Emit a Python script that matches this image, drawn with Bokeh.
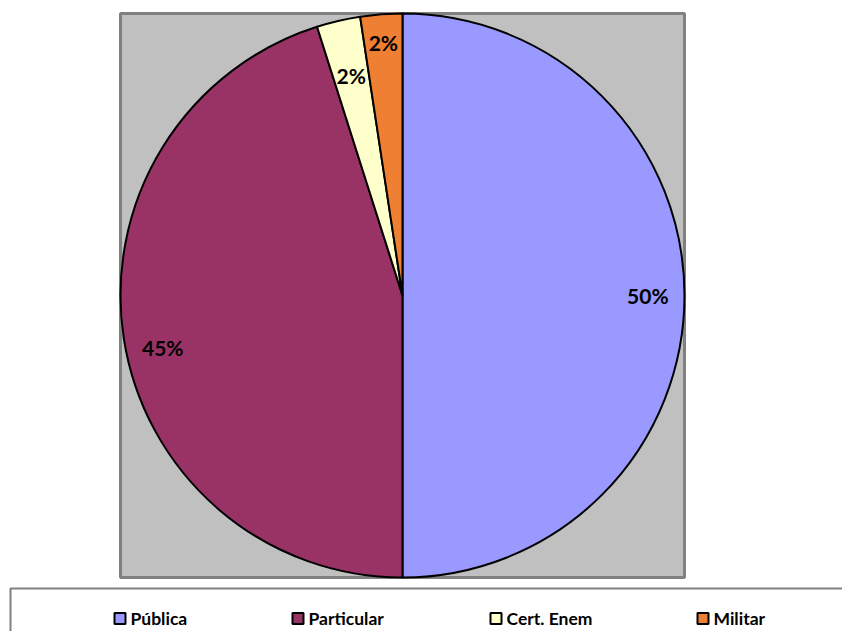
import numpy as np
from bokeh.plotting import figure
from bokeh.models import Range1d, ColumnDataSource
from bokeh.core.properties import value
from bokeh.embed import file_html
from bokeh.resources import INLINE

# ---- data ----
categories = ["Pública", "Particular", "Cert. Enem", "Militar"]
shares = [50.0, 45.1, 2.5, 2.4]
labels = ["50%", "45%", "2%", "2%"]
colors = ["#9999FF", "#993366", "#FFFFCC", "#EF7F33"]

# ---- layout ----
W, H = 842, 631
cx, cy, R = 402, 336, 282
label_frac = [0.87, 0.87, 0.80, 0.90]
label_dang = [0.0, 0.06, 0.0, 0.0]
legend_x = [113, 291, 489, 696]
legend_y = 13

frac = np.array(shares) / np.sum(shares)
cum = np.concatenate([[0], np.cumsum(frac)])
start = np.pi / 2 - 2 * np.pi * cum[:-1]
end = np.pi / 2 - 2 * np.pi * cum[1:]
mid = (start + end) / 2 + np.array(label_dang)

p = figure(width=W, height=H, x_range=Range1d(0, W), y_range=Range1d(0, H),
           output_backend="svg", toolbar_location=None,
           x_axis_location=None, y_axis_location=None, min_border=0)
p.grid.visible = False
p.outline_line_color = None
p.background_fill_color = "white"

# plot area
p.quad(left=[cx - R], right=[cx + R], bottom=[cy - R], top=[cy + R],
       fill_color="#C0C0C0", line_color="#808080", line_width=3)

src = ColumnDataSource(dict(start=start, end=end, color=colors, cat=categories))
p.wedge(x=cx, y=cy, radius=R, start_angle="start", end_angle="end",
        direction="clock", fill_color="color", line_color="black",
        line_width=2, source=src)

lx = cx + np.array(label_frac) * R * np.cos(mid)
ly = cy + np.array(label_frac) * R * np.sin(mid)
p.text(x=lx, y=ly, text=labels, text_font=value("Lato"), text_font_style="bold",
       text_font_size="21px", text_align="center", text_baseline="middle",
       text_color="black")

# legend box
p.quad(left=[10], right=[900], bottom=[-30], top=[43], fill_color="white",
       line_color="#808080", line_width=2)
p.rect(x=[x + 6.5 for x in legend_x], y=[legend_y] * 4, width=11, height=11,
       fill_color=colors, line_color="black", line_width=2)
p.text(x=[x + 17 for x in legend_x], y=[legend_y] * 4, text=categories,
       text_font=value("Lato"), text_font_style="bold", text_font_size="17.5px",
       text_align="left", text_baseline="middle", text_color="black")

open("out.html", "w").write(file_html(p, INLINE))
